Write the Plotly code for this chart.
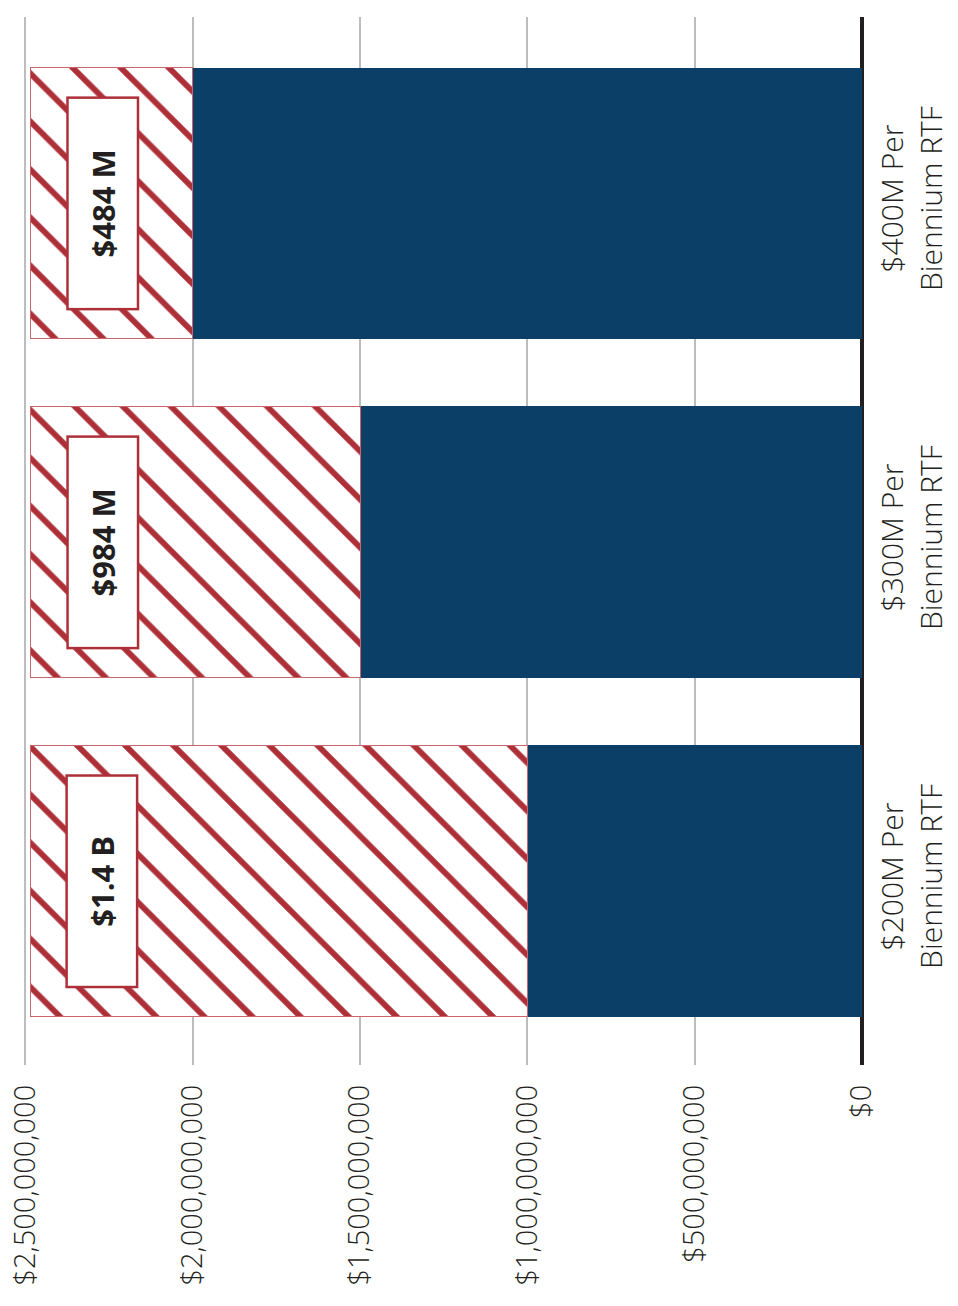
import plotly.graph_objects as go

categories = ["$200M Per<br>Biennium RTF", "$300M Per<br>Biennium RTF", "$400M Per<br>Biennium RTF"]
base_values = [1.0e9, 1.5e9, 2.0e9]
gap_values = [1.484e9, 0.984e9, 0.484e9]
gap_labels = ["$1.4 B", "$984 M", "$484 M"]
tick_vals = [0, 5e8, 1e9, 1.5e9, 2e9, 2.5e9]
tick_text = ["$0", "$500,000,000", "$1,000,000,000", "$1,500,000,000", "$2,000,000,000", "$2,500,000,000"]

NAVY = "#0c3f68"
RED = "#ad3039"
FONT = "Open Sans"

fig = go.Figure()
fig.add_trace(go.Bar(
    y=categories, x=base_values, orientation="h",
    marker=dict(color=NAVY, line=dict(width=0)),
    width=0.8, showlegend=False, hoverinfo="skip",
))
fig.add_trace(go.Bar(
    y=categories, x=gap_values, orientation="h",
    marker=dict(color="white", line=dict(width=1, color="#c8666c"),
                pattern=dict(shape="\\", fgcolor=RED, bgcolor="white",
                             size=34, solidity=0.17, fillmode="replace")),
    width=0.8, showlegend=False, hoverinfo="skip",
))

for cat, lab in zip(categories, gap_labels):
    fig.add_annotation(
        x=2.27e9, y=cat, xref="x", yref="y", text="<b>" + lab + "</b>",
        textangle=-90, showarrow=False,
        font=dict(family=FONT, size=31, color="#231f20"),
        width=209, height=68,
        bgcolor="white", bordercolor=RED, borderwidth=2.5, borderpad=0,
    )

fig.update_layout(
    width=958, height=1306,
    barmode="stack",
    plot_bgcolor="white", paper_bgcolor="white",
    margin=dict(l=22, r=96, t=17, b=241, autoexpand=False),
    font=dict(family=FONT, color="#231f20"),
    xaxis=dict(
        range=[2.51e9, 0], tickvals=tick_vals, ticktext=tick_text,
        tickangle=-90, showgrid=True, gridcolor="#bdbdbd", gridwidth=2,
        zeroline=True, zerolinecolor="#231f20", zerolinewidth=4,
        showline=False, ticks="", ticklabelstandoff=13, automargin=False,
        tickfont=dict(family=FONT, size=29, color="#231f20", weight=300),
        fixedrange=True,
    ),
    yaxis=dict(
        side="right", categoryorder="array", categoryarray=categories,
        range=[-0.543, 2.549], tickangle=-90, showgrid=False, zeroline=False,
        showline=False, ticks="", ticklabelstandoff=10, automargin=False,
        tickfont=dict(family=FONT, size=30, color="#231f20", weight=300),
        fixedrange=True,
    ),
)

fig.write_html("out.html")
